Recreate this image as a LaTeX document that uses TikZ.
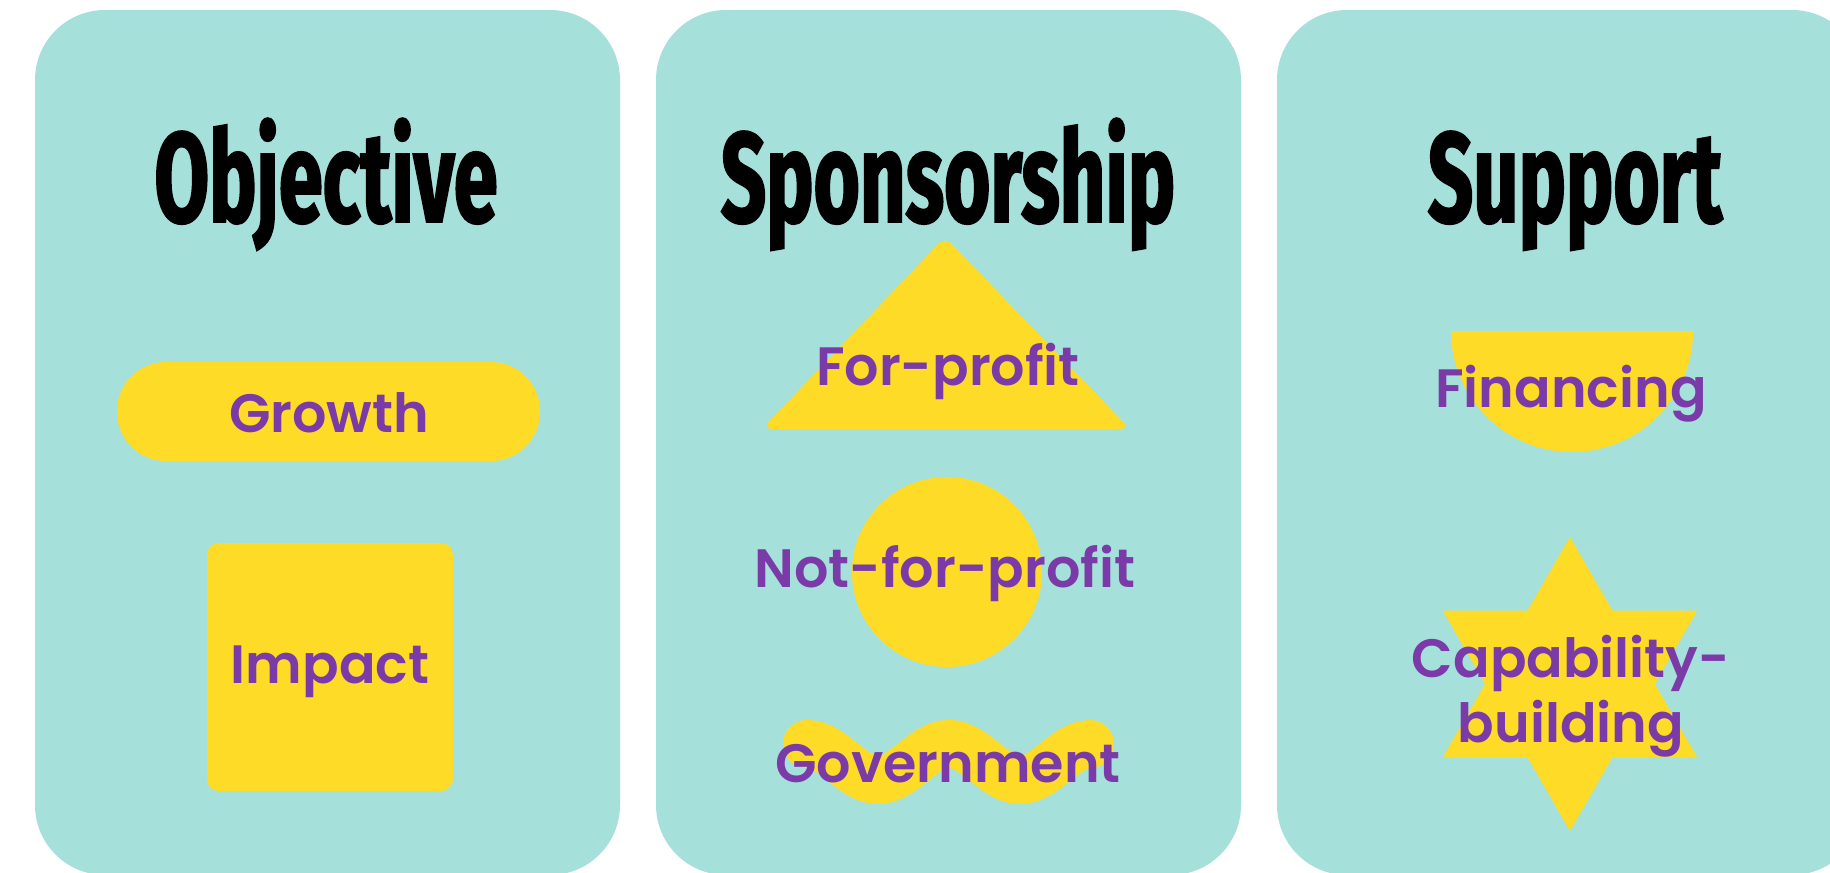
\documentclass[tikz,border=0pt]{standalone}
\usepackage{fontspec}
\setmainfont{Poppins}[BoldFont={Poppins SemiBold}]
\newfontfamily\titlefont{Fira Sans}[FakeStretch=0.62, BoldFeatures={FakeBold=1.5}]
\definecolor{panel}{RGB}{166,224,219}
\definecolor{sun}{RGB}{254,219,38}
\definecolor{plum}{RGB}{122,58,168}
\tikzset{
  panelbox/.style={fill=panel, rounded corners=70bp},
  blob/.style={fill=sun},
  lab/.style={text=plum, font=\fontsize{54bp}{65bp}\selectfont\bfseries, anchor=base, inner sep=0pt},
  ttl/.style={text=black, font=\titlefont\bfseries\fontsize{128bp}{140bp}\selectfont, anchor=base, inner sep=0pt}
}
\begin{document}
\begin{tikzpicture}[x=1bp, y=-1bp]
\useasboundingbox (0,0) rectangle (1830,873);
\fill[white] (0,0) rectangle (1830,873);
\begin{scope}
\clip (0,0) rectangle (1830,873);
% panels
\fill[panelbox] (35,10) rectangle (620,875);
\fill[panelbox] (656,10) rectangle (1241,875);
\fill[panelbox] (1277,10) rectangle (1862,875);
\end{scope}
% titles
\node[ttl] (tobj) at (326,222) {Objective};
\node[ttl] (tspo) at (948,222) {Sponsorship};
\node[ttl] (tsup) at (1575,222) {Support};
% Objective shapes
\fill[blob, rounded corners=49bp] (117,362) rectangle (540,461);
\fill[blob, rounded corners=12bp] (207,543) rectangle (453,791);
\node[lab] (growth) at (329,432) {Growth};
\node[lab] (impact) at (330,683) {Impact};
% Sponsorship shapes
\fill[blob, rounded corners=10bp] (945,237) -- (1130,429) -- (762,429) -- cycle;
\fill[blob] (947,572) circle[radius=95];
\draw[sun, line width=48bp, line cap=round] plot[smooth, samples=40, domain=0:1.993] ({807+142*\x}, {762-18*cos(360*\x)});
\node[lab] (forprofit) at (948,385) {For-profit};
\node[lab] (notfor) at (945,587) {Not-for-profit};
\node[lab] (gov) at (948,782) {Government};
% Support shapes
\begin{scope}
\clip (1440,331) rectangle (1710,470);
\fill[blob] (1572,331) circle[radius=121];
\end{scope}
\fill[blob] (1570,537) -- (1612.4,610.5) -- (1697.3,610.5) -- (1654.9,684) -- (1697.3,757.5) -- (1612.4,757.5) -- (1570,831) -- (1527.6,757.5) -- (1442.7,757.5) -- (1485.1,684) -- (1442.7,610.5) -- (1527.6,610.5) -- cycle;
\node[lab] (fin) at (1571,407) {Financing};
\node[lab] (cap1) at (1571,677) {Capability-};
\node[lab] (cap2) at (1571,742) {building};
\end{tikzpicture}
\end{document}
